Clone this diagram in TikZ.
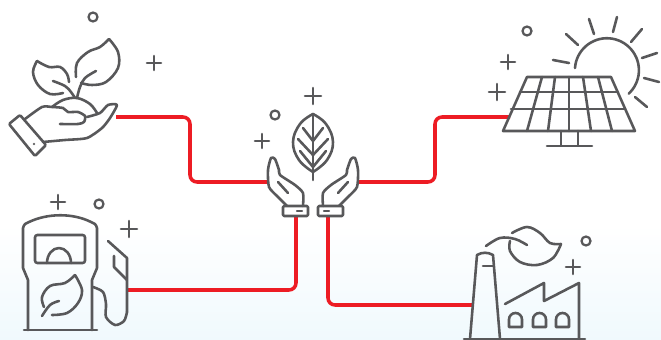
\documentclass[tikz,border=0pt]{standalone}
\usepackage{xcolor}
\usetikzlibrary{calc}
\definecolor{icongray}{HTML}{58585A}
\definecolor{linkred}{HTML}{ED1C24}
\definecolor{skyblue}{HTML}{F0F9FD}

\begin{document}
\begin{tikzpicture}[x=0.03cm, y=-0.03cm,
    icon/.style={draw=icongray, line width=2.2pt, line cap=round, line join=round},
    thinicon/.style={icon, line width=1.9pt},
    link/.style={draw=linkred, line width=3pt, rounded corners=6pt}]
  % Background
  \useasboundingbox (0, 0) rectangle (661, 340);
  \fill[white] (0, 0) rectangle (661, 340);
  \shade[top color=white, bottom color=skyblue] (0, 225) rectangle (661, 340);

  % Connector ends
  \coordinate (plantend) at (116, 117);
  \coordinate (solarend) at (510, 117);
  \coordinate (pumpend) at (128, 290);
  \coordinate (factoryend) at (472, 305);
  \coordinate (lefthand) at (268, 182);
  \coordinate (righthand) at (358, 182);
  \coordinate (leftcuff) at (296, 216);
  \coordinate (rightcuff) at (328, 216);

  % Connectors
  \draw[link] (plantend) -| (190, 182) -- (lefthand);
  \draw[link] (righthand) -| (435, 117) -- (solarend);
  \draw[link] (pumpend) -| (leftcuff);
  \draw[link] (factoryend) -| (rightcuff);

  % Plus signs and small rings
  \foreach \x/\y/\r in {154/63/7, 313/96/8, 262/141/7, 508/62/7, 497/92/8, 58/202/7, 129/229/8, 573/267/7}
    \draw[icon] (\x-\r, \y) -- (\x+\r, \y) (\x, \y-\r) -- (\x, \y+\r);
  \foreach \x/\y in {93/17, 275/115, 527/31, 99/204, 586/241}
    \draw[thinicon] (\x, \y) circle (4.5);

  % Plant in hand
  \draw[icon] plot[smooth, tension=0.6] coordinates {(76, 77) (77, 63) (88, 52) (100, 47) (109, 39)};
  \draw[icon] plot[smooth, tension=0.6] coordinates {(109, 39) (118, 52) (118, 68) (106, 82) (92, 85) (81, 83)};
  \draw[icon] plot[smooth, tension=0.6] coordinates {(96, 71) (85, 78) (80, 87) (77, 98)};
  \draw[icon] plot[smooth, tension=0.6] coordinates {(37, 61) (49, 67) (60, 67) (67, 74) (69, 82)};
  \draw[icon] plot[smooth, tension=0.6] coordinates {(37, 61) (33, 72) (38, 85) (50, 94) (63, 93)};
  \draw[icon] plot[smooth, tension=0.6] coordinates {(53, 81) (65, 86) (71, 92) (75, 98)};
  \draw[icon] plot[smooth, tension=0.6] coordinates {(52, 107) (63, 100) (77, 98) (90, 104) (97, 113)};
  \draw[icon, rounded corners=1pt] (9, 124) -- (20, 115) -- (46, 145) -- (35, 156) -- cycle;
  \draw[icon, line width=0.4pt] (34, 144) circle (1);
  \draw[icon] plot[smooth, tension=0.4] coordinates {(25, 119) (42, 107) (52, 107) (63, 108) (68, 112) (78, 112) (85, 116) (84, 122) (78, 124) (60, 124)};
  \draw[icon] plot[smooth, tension=0.4] coordinates {(87, 117) (100, 113) (108, 105) (117, 105) (110, 118) (102, 128) (87, 138) (65, 140) (43, 142)};

  % Leaf and two hands
  \foreach \side in {1, -1} {
    \begin{scope}[shift={(313, 0)}, xscale=\side]
      \draw[icon] plot[smooth, tension=0.7] coordinates {(0, 114) (-13, 124) (-20, 142) (-14, 160) (0, 172)};
      \draw[icon] (-10, 128) -- (0, 141) (-15, 139) -- (0, 155) (-13, 151) -- (0, 167);
      \draw[icon, rounded corners=1pt] (-30, 206) rectangle (-5, 216);
      \draw[thinicon] (-16, 211) -- (-11, 211);
      \draw[icon] plot[smooth, tension=0.4] coordinates {(-10, 206) (-10, 193) (-18, 185) (-33, 175) (-34, 170) (-38, 159) (-42, 158) (-45, 170) (-44, 187) (-35, 197) (-26, 206)};
      \draw[icon] (-35, 182) -- (-25, 193);
    \end{scope}
  }
  \draw[icon] (313, 114) -- (313, 180);

  % Solar panel
  \draw[icon] (527, 77) -- (611, 77) -- (635, 131) -- (503, 131) -- cycle;
  \draw[icon] (520, 92) -- (618, 92) (511, 109) -- (625, 109);
  \foreach \top/\bottom in {542/527, 555/548, 569/569, 583/591, 598/612}
    \draw[icon] (\top, 77) -- (\bottom, 131);
  \draw[icon] (561, 131) -- (561, 145) (578, 131) -- (578, 145) (547, 146) -- (592, 146);
  \draw[icon] (575, 68) arc[start angle=184, end angle=407, radius=32];
  \foreach \xa/\ya/\xb/\yb in {553/60/569/63, 566/34/578/45, 589/19/594/34, 617/17/613/32, 642/29/631/42, 657/53/642/58, 659/82/644/78, 647/107/635/97}
    \draw[icon] (\xa, \ya) -- (\xb, \yb);

  % Fuel pump
  \draw[icon] (24, 330) -- (97, 330);
  \draw[icon] (28, 330) -- (28, 280) -- (23, 268) -- (23, 228) .. controls (24, 224) and (26, 223) .. (29, 222) .. controls (48, 213) and (73, 213) .. (91, 222) .. controls (94, 223) and (96, 224) .. (97, 228) -- (97, 268) -- (92, 280) -- (92, 330);
  \draw[icon, rounded corners=2pt] (35, 235) rectangle (85, 263);
  \draw[icon] (47, 263) arc[start angle=180, end angle=360, x radius=12, y radius=15];
  \draw[icon] plot[smooth, tension=0.6] coordinates {(75, 275) (65, 283) (50, 286) (42, 297) (44, 307)};
  \draw[icon] plot[smooth, tension=0.6] coordinates {(75, 275) (82, 290) (78, 303) (67, 313) (52, 315)};
  \draw[icon] plot[smooth, tension=0.6] coordinates {(42, 316) (50, 305) (59, 301)};
  \draw[icon] plot[smooth, tension=0.5] coordinates {(93, 287) (103, 292) (106, 304) (106, 317) (115, 325) (124, 321) (127, 312)};
  \draw[icon] (127, 312) -- (127, 258) -- (108, 241);
  \draw[icon] (114, 256) -- (114, 267) -- (127, 280);

  % Factory
  \draw[icon] (464, 339) -- (585, 339);
  \draw[icon] (470, 339) -- (477, 255) .. controls (482, 252) and (488, 252) .. (493, 255) -- (500, 339);
  \draw[icon] (483, 266) -- (493, 266);
  \draw[icon] (505, 304) -- (544, 283) -- (544, 301) -- (579, 283) -- (579, 339);
  \foreach \x in {509, 533, 556}
    \draw[icon] (\x, 327) -- (\x, 319.5) arc[start angle=180, end angle=360, radius=6.5] -- (\x+13, 327) -- cycle;
  \draw[icon] plot[smooth, tension=0.6] coordinates {(486, 246) (500, 238) (515, 239) (527, 245)};
  \draw[icon] plot[smooth, tension=0.6] coordinates {(512, 233) (527, 227) (540, 233) (550, 243) (561, 244)};
  \draw[icon] plot[smooth, tension=0.6] coordinates {(561, 244) (553, 258) (537, 265) (520, 262) (510, 251) (510, 241)};
\end{tikzpicture}
\end{document}
